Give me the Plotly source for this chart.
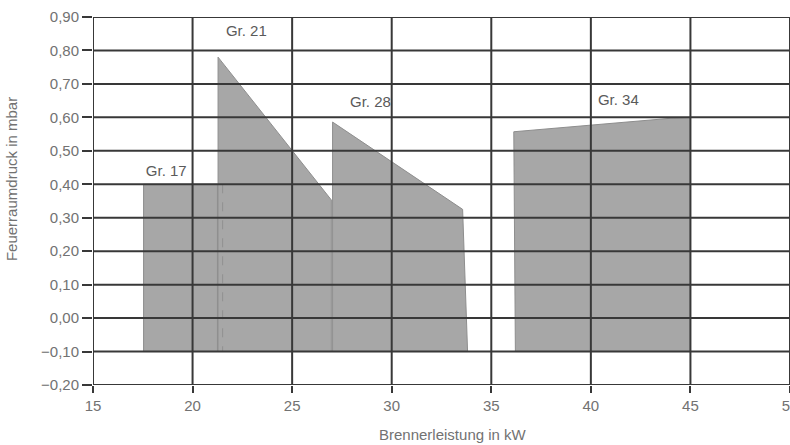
import plotly.graph_objects as go

# ---- data ----
x_ticks = [15, 20, 25, 30, 35, 40, 45, 50]
x_tick_labels = ["15", "20", "25", "30", "35", "40", "45", "50"]
y_ticks = [-0.2, -0.1, 0.0, 0.1, 0.2, 0.3, 0.4, 0.5, 0.6, 0.7, 0.8, 0.9]
y_tick_labels = ["\u22120,20", "\u22120,10", "0,00", "0,10", "0,20", "0,30",
                 "0,40", "0,50", "0,60", "0,70", "0,80", "0,90"]

gr17_x = [17.54, 17.54, 21.25, 21.25]
gr17_y = [-0.10, 0.40, 0.40, -0.10]
gr21_x = [21.28, 21.28, 26.97, 26.97]
gr21_y = [-0.10, 0.78, 0.353, -0.10]
gr28_x = [27.03, 27.03, 33.56, 33.81]
gr28_y = [-0.10, 0.586, 0.325, -0.10]
gr34_x = [36.21, 36.13, 44.16, 45.0, 45.0]
gr34_y = [-0.10, 0.557, 0.598, 0.60, -0.10]

dash_x = [21.51, 21.51]
dash_y = [0.40, -0.10]

labels = ["Gr. 17", "Gr. 21", "Gr. 28", "Gr. 34"]
label_x = [18.68, 22.70, 28.93, 41.38]
label_y = [0.436, 0.853, 0.643, 0.649]

x_title = "Brennerleistung in kW"
y_title = "Feuerraumdruck in mbar"

# ---- figure ----
FILL = "#a7a7a7"
EDGE = "#8e8e8e"
GRID = "#383838"
TXT = "#727272"
FONT = "Liberation Sans"

fig = go.Figure()
for xs, ys in [(gr17_x, gr17_y), (gr21_x, gr21_y), (gr28_x, gr28_y), (gr34_x, gr34_y)]:
    fig.add_trace(go.Scatter(x=xs + [xs[0]], y=ys + [ys[0]], mode="lines",
                             fill="toself", fillcolor=FILL,
                             line=dict(color=EDGE, width=1),
                             hoverinfo="skip", showlegend=False))

fig.add_trace(go.Scatter(x=dash_x, y=dash_y, mode="lines",
                         line=dict(color="#909090", width=1, dash="dash"),
                         hoverinfo="skip", showlegend=False))

fig.add_trace(go.Scatter(x=label_x, y=label_y, mode="text", text=labels,
                         textfont=dict(family=FONT, size=15, color="#5a5a5a"),
                         hoverinfo="skip", showlegend=False))

# grid lines drawn above the filled areas
shapes = []
for xv in x_ticks:
    shapes.append(dict(type="line", xref="x", yref="y", x0=xv, x1=xv,
                       y0=y_ticks[0], y1=y_ticks[-1], layer="above",
                       line=dict(color=GRID, width=2)))
for yv in y_ticks:
    shapes.append(dict(type="line", xref="x", yref="y", x0=x_ticks[0], x1=x_ticks[-1],
                       y0=yv, y1=yv, layer="above",
                       line=dict(color=GRID, width=2)))

annotations = [
    dict(text=x_title, xref="paper", yref="paper", x=0.517, y=-0.135,
         xanchor="center", yanchor="middle", showarrow=False,
         font=dict(family=FONT, size=15, color=TXT)),
    dict(text=y_title, xref="paper", yref="paper", x=-0.116, y=0.56,
         xanchor="center", yanchor="middle", showarrow=False, textangle=-90,
         font=dict(family=FONT, size=15, color=TXT)),
]

fig.update_layout(
    width=790, height=445,
    margin=dict(l=93, r=0, t=17, b=60),
    paper_bgcolor="white", plot_bgcolor="white",
    shapes=shapes, annotations=annotations,
    xaxis=dict(range=[15, 50], tickvals=x_ticks, ticktext=x_tick_labels,
               showgrid=False, zeroline=False, showline=False, automargin=False,
               ticks="outside", ticklen=7, tickwidth=2, tickcolor=GRID,
               ticklabeloverflow="allow",
               tickfont=dict(family=FONT, size=15, color=TXT)),
    yaxis=dict(range=[-0.2, 0.9], tickvals=y_ticks, ticktext=y_tick_labels,
               showgrid=False, zeroline=False, showline=False, automargin=False,
               ticks="outside", ticklen=10, tickwidth=2, tickcolor=GRID,
               tickfont=dict(family=FONT, size=15, color=TXT)),
)

fig.write_html(
    "out.html", config={"displayModeBar": False},
    post_script=(
        "document.body.style.margin='0';"
        "document.body.style.overflow='hidden';"
        "document.documentElement.style.overflow='hidden';"
    ),
)
